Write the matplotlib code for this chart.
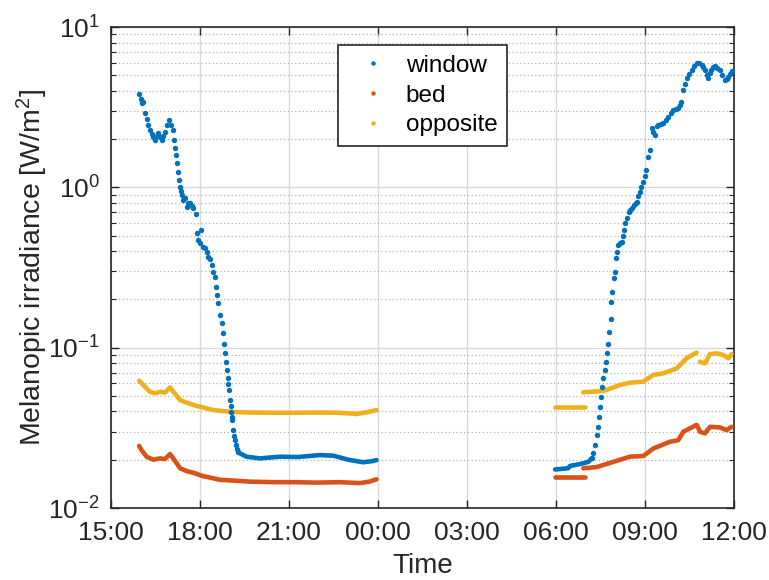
import matplotlib
matplotlib.use("Agg")
import matplotlib.pyplot as plt
from matplotlib.lines import Line2D
from matplotlib.ticker import LogLocator, NullFormatter, FixedLocator

plt.rcParams['font.family'] = ['Liberation Sans', 'DejaVu Sans']
plt.rcParams['mathtext.fontset'] = 'custom'
plt.rcParams['mathtext.rm'] = 'Liberation Sans'
plt.rcParams['mathtext.it'] = 'Liberation Sans'

# ---- data (time in hours; next-day hours continue past 24) ----
tick_hours = [15, 18, 21, 24, 27, 30, 33, 36]
tick_labels = ['15:00', '18:00', '21:00', '00:00', '03:00', '06:00', '09:00', '12:00']

series_names = ['window', 'bed', 'opposite']

# window, evening, sparse dotted part
window_pm_dots_t = [15.95, 16.00, 16.03, 16.09, 16.15, 16.20, 16.24, 16.31, 16.37, 16.43, 16.48, 16.54,
                    16.59, 16.65, 16.71, 16.76, 16.82, 16.90, 16.96, 17.04, 17.08, 17.12, 17.16, 17.19,
                    17.23, 17.27, 17.30, 17.33, 17.36, 17.38, 17.43, 17.49, 17.55, 17.60, 17.66, 17.72,
                    17.77, 17.85, 17.89, 17.95, 18.00, 18.05, 18.11, 18.16, 18.22, 18.28, 18.34, 18.40,
                    18.45, 18.50, 18.54, 18.58, 18.62, 18.67, 18.73, 18.76, 18.81, 18.84, 18.88, 18.90,
                    18.93, 18.96, 18.98, 19.01, 19.03, 19.05, 19.07, 19.09, 19.12, 19.14, 19.17, 19.20,
                    19.24, 19.29]
window_pm_dots_v = [3.80, 3.55, 3.34, 3.42, 2.90, 2.65, 2.45, 2.28, 2.15, 2.07, 1.97, 2.10,
                    2.17, 2.05, 1.97, 2.10, 2.22, 2.45, 2.63, 2.45, 2.28, 1.97, 1.75, 1.59,
                    1.41, 1.25, 1.11, 1.01, 0.95, 0.895, 0.83, 0.855, 0.757, 0.80, 0.794, 0.76,
                    0.74, 0.682, 0.516, 0.47, 0.448, 0.54, 0.426, 0.42, 0.397, 0.37, 0.356, 0.33,
                    0.298, 0.277, 0.24, 0.213, 0.189, 0.160, 0.142, 0.123, 0.106, 0.0922, 0.0817, 0.0725,
                    0.0645, 0.059, 0.0545, 0.0472, 0.043, 0.0398, 0.037, 0.0354, 0.0306, 0.028, 0.0265, 0.0248,
                    0.0235, 0.0225]
# window, evening, dense part
window_pm_line_t = [19.29, 19.35, 19.57, 20.02, 20.70, 21.30, 22.04, 22.50, 23.00, 23.50, 23.80, 23.95]
window_pm_line_v = [0.0225, 0.0219, 0.0209, 0.0204, 0.0209, 0.0208, 0.0214, 0.0212, 0.0200, 0.0193, 0.0196, 0.0199]

# window, morning, dense start
window_am_line_t = [29.97, 30.41, 30.47, 30.81, 31.09, 31.20]
window_am_line_v = [0.0174, 0.0177, 0.0183, 0.0188, 0.0194, 0.0204]
# window, morning, dotted rise
window_am_dots_t = [31.20, 31.25, 31.31, 31.37, 31.40, 31.45, 31.48, 31.51, 31.55, 31.59, 31.64, 31.68,
                    31.73, 31.76, 31.79, 31.84, 31.87, 31.90, 31.95, 31.99, 32.02, 32.06, 32.10, 32.15,
                    32.21, 32.25, 32.29, 32.33, 32.38, 32.45, 32.50, 32.55, 32.62, 32.68, 32.72, 32.78,
                    32.83, 32.88, 32.94, 33.00, 33.05, 33.10, 33.17, 33.22, 33.27, 33.33, 33.39, 33.45,
                    33.53, 33.61, 33.70, 33.78, 33.86, 33.95, 34.03, 34.12, 34.18, 34.23, 34.29, 34.35,
                    34.40, 34.48, 34.57, 34.65, 34.74, 34.82, 34.91, 34.97, 35.02, 35.08, 35.13, 35.19,
                    35.24, 35.30, 35.35, 35.43, 35.52, 35.60, 35.69, 35.75, 35.80, 35.86, 35.92]
window_am_dots_v = [0.0204, 0.0219, 0.0247, 0.0285, 0.0321, 0.0371, 0.0429, 0.0495, 0.057, 0.0644, 0.0727, 0.0817,
                    0.0922, 0.106, 0.126, 0.152, 0.194, 0.223, 0.271, 0.298, 0.36, 0.397, 0.437, 0.45,
                    0.458, 0.50, 0.542, 0.60, 0.641, 0.70, 0.72, 0.74, 0.78, 0.80, 0.813, 0.88,
                    0.94, 1.00, 1.08, 1.18, 1.28, 1.55, 1.71, 2.33, 2.20, 2.12, 2.40, 2.45,
                    2.48, 2.51, 2.62, 2.76, 2.90, 3.03, 3.08, 3.11, 3.25, 3.42, 4.05, 4.40,
                    4.79, 5.10, 5.39, 5.70, 5.94, 5.95, 5.80, 5.60, 5.39, 5.00, 4.79, 5.20,
                    5.39, 5.60, 5.71, 5.55, 5.39, 5.00, 4.68, 4.75, 4.90, 5.10, 5.34]

# bed
bed_pm_t = [15.95, 16.03, 16.20, 16.43, 16.65, 16.82, 16.99, 17.10, 17.33, 17.55, 17.77, 18.11, 18.40,
            18.67, 19.20, 19.69, 20.50, 21.20, 21.93, 22.70, 23.39, 23.70, 23.95]
bed_pm_v = [0.0244, 0.0230, 0.0209, 0.0200, 0.0204, 0.0202, 0.0217, 0.0204, 0.0177, 0.0170, 0.0166, 0.0158, 0.0154,
            0.0150, 0.0148, 0.0146, 0.0145, 0.0145, 0.0144, 0.0145, 0.0143, 0.0146, 0.0151]
bed_am1_t = [29.97, 30.50, 30.98]
bed_am1_v = [0.0157, 0.0157, 0.0157]
bed_am2_t = [30.92, 31.37, 31.93, 32.49, 32.94, 33.28, 33.84, 34.12, 34.29, 34.74, 34.80, 34.85, 35.02,
             35.19, 35.53, 35.75, 35.92]
bed_am2_v = [0.0177, 0.0180, 0.0194, 0.0209, 0.0211, 0.0235, 0.0259, 0.0265, 0.0299, 0.0330, 0.0315, 0.0299, 0.0292,
             0.0321, 0.0318, 0.0306, 0.0321]

# opposite
opp_pm_t = [15.95, 16.09, 16.31, 16.48, 16.65, 16.82, 16.99, 17.10, 17.33, 17.55, 17.89, 18.11, 18.45,
            19.12, 19.80, 20.50, 21.20, 22.00, 22.70, 23.28, 23.60, 23.95]
opp_pm_v = [0.0622, 0.0585, 0.0531, 0.0519, 0.0531, 0.0525, 0.0566, 0.0531, 0.0472, 0.0454, 0.0433, 0.0424, 0.0408,
            0.0397, 0.0394, 0.0393, 0.0393, 0.0394, 0.0393, 0.0386, 0.0395, 0.0408]
opp_am1_t = [29.97, 30.50, 30.98]
opp_am1_v = [0.0425, 0.0425, 0.0425]
opp_am2_t = [30.92, 31.59, 32.16, 32.49, 32.94, 33.28, 33.61, 34.07, 34.40, 34.74]
opp_am2_v = [0.0527, 0.0537, 0.0585, 0.0605, 0.0614, 0.0676, 0.0692, 0.0743, 0.0859, 0.0931]
opp_am3_t = [34.85, 35.02, 35.19, 35.41, 35.64, 35.81, 35.92]
opp_am3_v = [0.0817, 0.0798, 0.0912, 0.0922, 0.0900, 0.0859, 0.0912]

colors = ['#0072BD', '#D95319', '#EDB120']

# ---- figure ----
fig = plt.figure(figsize=(7.69, 5.80), dpi=100)
ax = fig.add_axes([0.1443, 0.1241, 0.8102, 0.8293])

ms = 3.9
lw = 3.3

def dots(t, v, c):
    ax.plot(t, v, linestyle='none', marker='o', ms=ms, mew=0, color=c, zorder=3)

def dense(t, v, c):
    ax.plot(t, v, linestyle='-', lw=lw, color=c, solid_capstyle='round', zorder=3)

# opposite
dense(opp_pm_t, opp_pm_v, colors[2])
dense(opp_am1_t, opp_am1_v, colors[2])
dense(opp_am2_t, opp_am2_v, colors[2])
dense(opp_am3_t, opp_am3_v, colors[2])
# bed
dense(bed_pm_t, bed_pm_v, colors[1])
dense(bed_am1_t, bed_am1_v, colors[1])
dense(bed_am2_t, bed_am2_v, colors[1])
# window
dots(window_pm_dots_t, window_pm_dots_v, colors[0])
dense(window_pm_line_t, window_pm_line_v, colors[0])
dense(window_am_line_t, window_am_line_v, colors[0])
dots(window_am_dots_t, window_am_dots_v, colors[0])

ax.set_yscale('log')
ax.set_ylim(1e-2, 1e1)
ax.set_xlim(15, 36)
ax.xaxis.set_major_locator(FixedLocator(tick_hours))
ax.set_xticklabels(tick_labels)
ax.yaxis.set_major_locator(LogLocator(base=10, numticks=10))
ax.yaxis.set_minor_locator(LogLocator(base=10, subs=range(2, 10), numticks=20))
ax.yaxis.set_minor_formatter(NullFormatter())

ax.grid(True, which='major', axis='both', color='#dadada', lw=1.0, ls='-', zorder=0)
ax.grid(True, which='minor', axis='y', color='#b0b0b0', lw=0.9, ls=(0, (1, 2)), zorder=0)
ax.set_axisbelow(True)

ax.tick_params(which='both', direction='in', top=True, right=True, colors='#262626',
               labelcolor='#262626', labelsize=19)
ax.tick_params(axis='x', which='major', length=6, width=1.0, pad=9)
ax.tick_params(axis='y', which='major', length=6, width=1.0, pad=8)
ax.tick_params(which='minor', length=3.5, width=0.8)
for s in ax.spines.values():
    s.set_color('#262626')
    s.set_linewidth(1.2)

ax.set_xlabel('Time', fontsize=20, color='#262626', labelpad=6)
ax.set_ylabel('Melanopic irradiance [W/m$^2$]', fontsize=20.5, color='#262626', labelpad=-1)

handles = [Line2D([], [], linestyle='none', marker='o', ms=3.2, mew=0, color=c) for c in colors]
leg = ax.legend(handles, series_names, loc='upper center', bbox_to_anchor=(0.5, 0.9626),
                fontsize=17.5, frameon=True, fancybox=False, edgecolor='#262626',
                handlelength=2.08, handletextpad=0.32, borderpad=0.4, labelspacing=0.32,
                borderaxespad=0.0)
leg.get_frame().set_linewidth(1.2)
leg.get_frame().set_facecolor('white')
leg.get_frame().set_alpha(1.0)

fig.savefig('out.png', dpi=100)
